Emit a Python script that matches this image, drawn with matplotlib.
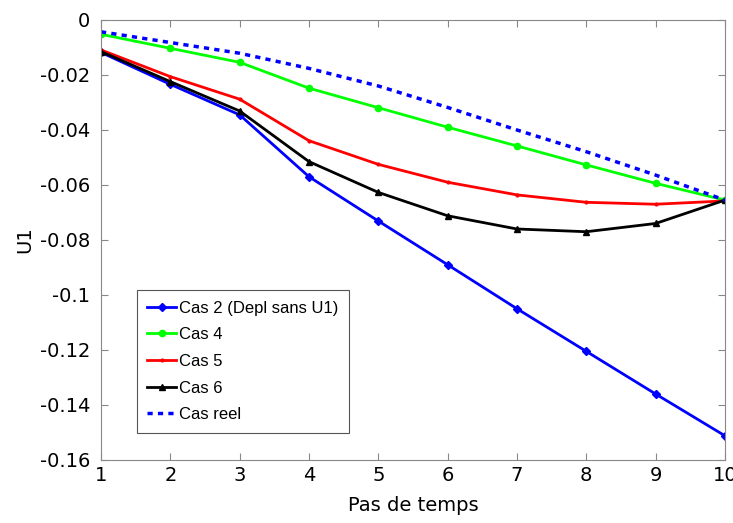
import numpy as np
import matplotlib
matplotlib.use('Agg')
import matplotlib.pyplot as plt

# time steps
steps = [1, 2, 3, 4, 5, 6, 7, 8, 9, 10]

# U1 values
cas2 = [-0.0118, -0.0234, -0.0345, -0.0570, -0.0731, -0.0890, -0.1050, -0.1205, -0.1360, -0.1512]
cas4 = [-0.0052, -0.0103, -0.0154, -0.0248, -0.0319, -0.0390, -0.0458, -0.0527, -0.0594, -0.0655]
cas5 = [-0.0109, -0.0206, -0.0288, -0.0439, -0.0525, -0.0590, -0.0636, -0.0663, -0.0670, -0.0658]
cas6 = [-0.0115, -0.0224, -0.0331, -0.0515, -0.0627, -0.0712, -0.0760, -0.0770, -0.0740, -0.0655]
reel = [-0.0043, -0.0082, -0.0121, -0.0176, -0.0240, -0.0318, -0.0400, -0.0479, -0.0564, -0.0655]

fig = plt.figure(figsize=(7.33, 5.23), dpi=100)
ax = fig.add_axes([0.1378, 0.1205, 0.8512, 0.8413])

ax.plot(steps, cas2, color='#0000ff', lw=2, marker='D', ms=4, label='Cas 2 (Depl sans U1)')
ax.plot(steps, cas4, color='#00ff00', lw=2, marker='o', ms=4.5, label='Cas 4')
ax.plot(steps, cas5, color='#ff0000', lw=2, marker='.', ms=4, label='Cas 5')
ax.plot(steps, cas6, color='black', lw=2, marker='^', ms=5, label='Cas 6')
ax.plot(steps, reel, color='#0000ff', lw=2.5, ls=(0, (1.5, 1.5)), label='Cas reel')

ax.set_xlim(1, 10)
ax.set_ylim(-0.16, 0)
ax.set_xticks(steps)
ax.set_yticks(np.arange(-0.16, 0.001, 0.02))
ax.set_yticklabels(['-0.16', '-0.14', '-0.12', '-0.1', '-0.08', '-0.06', '-0.04', '-0.02', '0'])

for s in ax.spines.values():
    s.set_color('#888888')
ax.tick_params(direction='in', top=True, right=True, color='#888888',
               labelsize=14, length=5)
ax.tick_params(axis='x', pad=4)
ax.tick_params(axis='y', pad=8)

ax.set_xlabel('Pas de temps', fontsize=14, labelpad=8)
ax.set_ylabel('U1', fontsize=14, labelpad=4)

leg = ax.legend(loc='lower left', bbox_to_anchor=(0.057, 0.061), borderaxespad=0,
                fancybox=False, edgecolor='#555555', framealpha=1,
                handlelength=1.7, labelspacing=0.7, borderpad=0.65,
                handletextpad=0.2,
                prop={'family': 'Liberation Sans', 'size': 12})
leg.get_frame().set_linewidth(0.8)

plt.savefig('out.png', dpi=100)
